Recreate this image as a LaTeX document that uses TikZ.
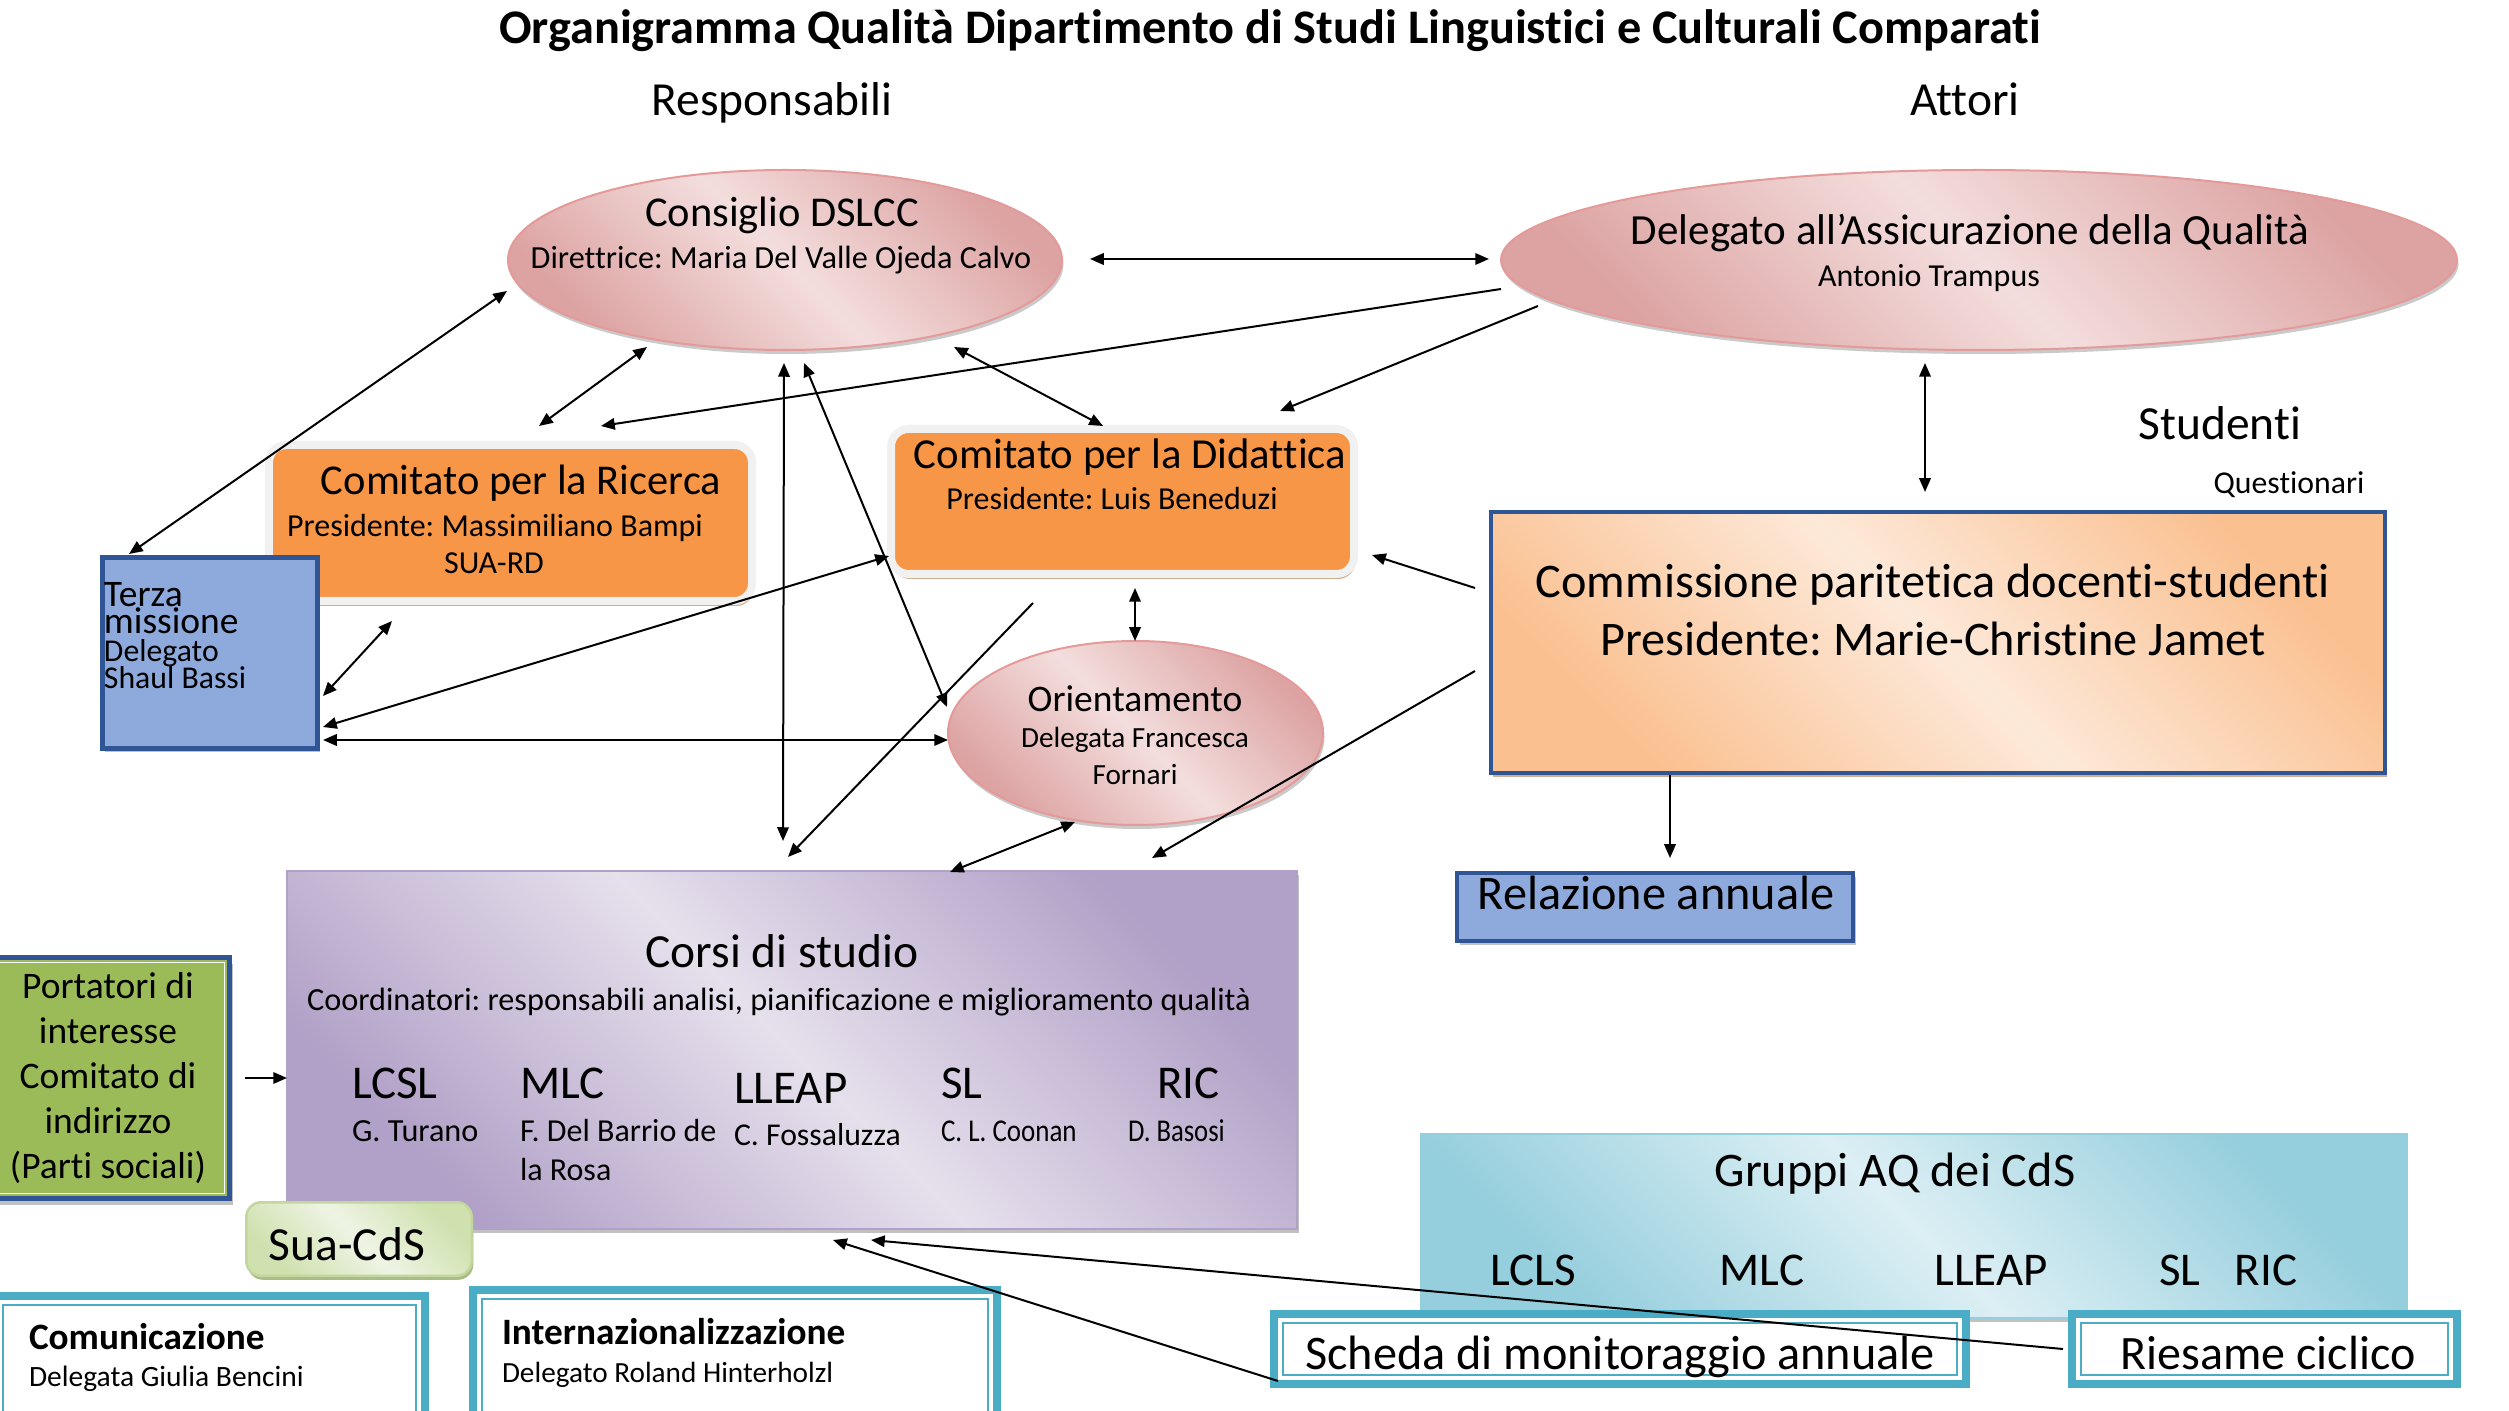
\documentclass[tikz,border=0pt]{standalone}
\usepackage{fontspec}
\setmainfont{Carlito}[Ligatures=NoCommon]
\usepackage{graphicx}
\usetikzlibrary{shapes.geometric,shadows,arrows.meta}
\definecolor{pinkL}{HTML}{F3DEDD}
\definecolor{pinkD}{HTML}{DCA3A2}
\definecolor{pinkB}{HTML}{E39A99}
\definecolor{orangeF}{HTML}{F79646}
\definecolor{frameG}{HTML}{F1F1F1}
\definecolor{tanS}{HTML}{CFAE8E}
\definecolor{blueF}{HTML}{8EA9DB}
\definecolor{blueB}{HTML}{2F5597}
\definecolor{peachL}{HTML}{FDE9D9}
\definecolor{peachD}{HTML}{FAC090}
\definecolor{lavL}{HTML}{E6E0EC}
\definecolor{lavD}{HTML}{B1A0C7}
\definecolor{greenF}{HTML}{9BBB59}
\definecolor{greenL}{HTML}{EEF4E4}
\definecolor{greenM}{HTML}{CFE1AE}
\definecolor{greenB}{HTML}{C3D69B}
\definecolor{greenS}{HTML}{A9BC87}
\definecolor{aqL}{HTML}{DCEFF4}
\definecolor{aqD}{HTML}{95CEDD}
\definecolor{tealC}{HTML}{4BACC6}
\begin{document}
\frenchspacing
\begin{tikzpicture}[x=0.4pt,y=-0.4pt,
  every node/.style={inner sep=0pt, outer sep=0pt},
  ell/.style={ellipse, draw=pinkB, line width=0.8pt, top color=pinkD, bottom color=pinkD, middle color=pinkL, shading angle=-45,
    drop shadow={shadow xshift=0.6pt, shadow yshift=-1.6pt, fill=gray!70, opacity=0.6}},
  orangebox/.style={rectangle, rounded corners=7pt, draw=frameG, line width=3.2pt, fill=orangeF,
    drop shadow={shadow xshift=0.6pt, shadow yshift=-2pt, fill=tanS, opacity=1}},
  bluebox/.style={rectangle, draw=blueB, line width=1.8pt, fill=blueF,
    drop shadow={shadow xshift=1pt, shadow yshift=-1.5pt, fill=gray!60, opacity=0.8}},
  peachbox/.style={rectangle, draw=blueB, line width=1.5pt, top color=peachD, bottom color=peachD, middle color=peachL, shading angle=-45,
    drop shadow={shadow xshift=0.8pt, shadow yshift=-1.5pt, fill=tanS, opacity=1}},
  lavbox/.style={rectangle, draw=lavD, line width=0.8pt, top color=lavD, bottom color=lavD, middle color=lavL, shading angle=-45,
    drop shadow={shadow xshift=0.6pt, shadow yshift=-1.5pt, fill=gray!70, opacity=0.7}},
  greenbox/.style={rectangle, draw=blueB, line width=2pt, fill=greenF,
    drop shadow={shadow xshift=1.5pt, shadow yshift=-2.5pt, fill=gray!60, opacity=0.8}},
  suabox/.style={rectangle, rounded corners=6pt, draw=greenB, line width=1pt, top color=greenM, bottom color=greenM, middle color=greenL, shading angle=-45,
    drop shadow={shadow xshift=0.6pt, shadow yshift=-1.6pt, fill=greenS, opacity=1}},
  aqbox/.style={rectangle, draw=aqD, line width=0.8pt, top color=aqD, bottom color=aqD, middle color=aqL, shading angle=-45,
    drop shadow={shadow xshift=0.4pt, shadow yshift=-1.6pt, fill=gray!70, opacity=0.7}},
  tealbox/.style={rectangle, draw=tealC, line width=3pt, fill=white},
  tealin/.style={draw=tealC, line width=0.7pt},
  t/.style={anchor=base, font=\fontsize{#1}{#1}\selectfont},
  tw/.style={anchor=base west, font=\fontsize{#1}{#1}\selectfont},
  arr/.style={-{Triangle[length=5.5pt,width=4.6pt]}, line width=0.8pt},
  dbl/.style={{Triangle[length=5.5pt,width=4.6pt]}-{Triangle[length=5.5pt,width=4.6pt]}, line width=0.8pt}
]
\useasboundingbox (0,0) rectangle (2509,1411);
\clip (0,0) rectangle (2509,1411);

% ---------- shapes ----------
\node[ell, minimum width=221.6pt, minimum height=72pt] (cons) at (785,260) {};
\node[ell, minimum width=382.4pt, minimum height=72pt] (deleg) at (1979,260) {};
\node[orangebox, minimum width=193.2pt, minimum height=62.4pt] (ric) at (510.5,523) {};
\node[orangebox, minimum width=185.2pt, minimum height=58pt] (did) at (1122.5,501.5) {};
\node[bluebox, minimum width=86pt, minimum height=76.4pt] (terza) at (210,653) {};
\node[ell, minimum width=150pt, minimum height=73.6pt] (orient) at (1135.5,733) {};
\node[peachbox, minimum width=357.6pt, minimum height=104.4pt] (comm) at (1938,642.5) {};
\node[bluebox, line width=1.5pt, minimum width=158.4pt, minimum height=27.2pt] (rel) at (1655,907) {};
\node[lavbox, minimum width=404pt, minimum height=143.2pt] (corsi) at (792,1050) {};
\node[greenbox, minimum width=97.2pt, minimum height=96.4pt, align=center, font=\fontsize{15}{18}\selectfont] (port) at (108,1078)
  {Portatori di\\interesse\\Comitato di\\indirizzo\\(Parti sociali)};
\draw[white, line width=0.7pt] ([shift={(5,5)}]port.north west) rectangle ([shift={(-5,-5)}]port.south east);
\node[suabox, minimum width=90.2pt, minimum height=29.4pt] (sua) at (359,1239) {};
\node[tealbox, minimum width=172.4pt, minimum height=56pt] (com) at (209.5,1366) {};
\draw[tealin] ([shift={(9,9)}]com.north west) rectangle ([shift={(-9,-9)}]com.south east);
\node[tealbox, minimum width=209.6pt, minimum height=58.4pt] (intl) at (735,1363) {};
\draw[tealin] ([shift={(9,9)}]intl.north west) rectangle ([shift={(-9,-9)}]intl.south east);
\node[aqbox, minimum width=394.4pt, minimum height=73.6pt] (grp) at (1914,1226) {};
\node[tealbox, minimum width=276.8pt, minimum height=28pt] (scheda) at (1620,1349) {};
\draw[tealin] ([shift={(9,9)}]scheda.north west) rectangle ([shift={(-9,-9)}]scheda.south east);
\node[tealbox, minimum width=154pt, minimum height=28pt] (ries) at (2264.5,1349) {};
\draw[tealin] ([shift={(9,9)}]ries.north west) rectangle ([shift={(-9,-9)}]ries.south east);

% ---------- texts ----------
\node[anchor=base, font=\fontsize{19.3}{19.3}\selectfont\bfseries] (title) at (1270,44) {Organigramma Qualità Dipartimento di Studi Linguistici e Culturali Comparati};
\node[t=19] (resp) at (772,116) {Responsabili};
\node[t=19] (att) at (1965,116) {Attori};
\node[t=17] (consA) at (782,227) {Consiglio DSLCC};
\node[t=12.9] (consB) at (781,269) {Direttrice: Maria Del Valle Ojeda Calvo};
\node[t=17.2] (delA) at (1970,245) {Delegato all’Assicurazione della Qualità};
\node[t=12.8] (delB) at (1929,287) {Antonio Trampus};
\node[t=17] (ricA) at (521,495) {Comitato per la Ricerca};
\node[t=12.8] (ricB) at (495,537) {Presidente: Massimiliano Bampi};
\node[t=12.8] (ricC) at (494,574) {SUA-RD};
\node[t=17.1] (didA) at (1130,469) {Comitato per la Didattica};
\node[t=12.8] (didB) at (1112,510) {Presidente: Luis Beneduzi};
\node[tw=15] (tzA) at (104,607) {Terza};
\node[tw=15] (tzB) at (104,634) {missione};
\node[tw=12.7] (tzC) at (104,662) {Delegato};
\node[tw=12.7] (tzD) at (104,689) {Shaul Bassi};
\node[t=15] (orA) at (1135,712) {Orientamento};
\node[t=11.7] (orB) at (1135,748) {Delegata Francesca};
\node[t=11.7] (orC) at (1135,785) {Fornari};
\node[t=19.3] (cmA) at (1933,598) {Commissione paritetica docenti-studenti};
\node[t=19.3] (cmB) at (1933,656) {Presidente: Marie-Christine Jamet};
\node[t=19] (stud) at (2220,440) {Studenti};
\node[t=12.7] (quest) at (2289,494) {Questionari};
\node[t=19.3] (relT) at (1656,910) {Relazione annuale};
\node[t=19] (corA) at (782,968) {Corsi di studio};
\node[t=12.9] (corB) at (779,1010) {Coordinatori: responsabili analisi, pianificazione e miglioramento qualità};
\node[tw=18.8] (c1) at (352,1098) {LCSL};
\node[tw=18.8] (c2) at (520,1098) {MLC};
\node[tw=18.8] (c3) at (734,1103) {LLEAP};
\node[tw=18.8] (c4) at (941,1098) {SL};
\node[tw=18.8] (c5) at (1157,1098) {RIC};
\node[tw=12.9] (n1) at (352,1141) {G. Turano};
\node[tw=12.8] (n2) at (520,1141) {F. Del Barrio de};
\node[tw=12.8] (n2b) at (520,1180) {la Rosa};
\node[tw=12.7] (n3) at (734,1145) {C. Fossaluzza};
\node[tw=12.7] (n4) at (941,1141) {\scalebox{0.85}[1]{C. L. Coonan}};
\node[tw=12.7] (n5) at (1128,1141) {\scalebox{0.84}[1]{D. Basosi}};
\node[t=19] (suaT) at (347,1260) {Sua-CdS};
\node[anchor=base west, font=\fontsize{14.9}{14.9}\selectfont\bfseries] (comA) at (29,1349) {Comunicazione};
\node[tw=11.8] (comB) at (29,1386) {Delegata Giulia Bencini};
\node[anchor=base west, font=\fontsize{14.9}{14.9}\selectfont\bfseries] (intA) at (502,1344) {Internazionalizzazione};
\node[tw=11.7] (intB) at (502,1382) {Delegato Roland Hinterholzl};
\node[t=19.3] (grpT) at (1895,1186) {Gruppi AQ dei CdS};
\node[t=18.8] (g1) at (1533,1285) {LCLS};
\node[t=18.8] (g2) at (1762,1285) {MLC};
\node[t=18.8] (g3) at (1991,1285) {LLEAP};
\node[t=18.8] (g4) at (2180,1285) {SL};
\node[t=18.8] (g5) at (2266,1285) {RIC};
\node[t=19.3] (schT) at (1620,1369) {Scheda di monitoraggio annuale};
\node[t=19.2] (riesT) at (2268,1369) {Riesame ciclico};

% ---------- connectors ----------
\coordinate (f1) at (1033,603);
\draw[dbl] ([shift={(305,-1)}]cons.center) -- ([shift={(-490,-1)}]deleg.center);
\draw[dbl] ([shift={(-278,31)}]cons.center) -- ([shift={(-81,-99)}]terza.center);
\draw[dbl] ([shift={(-138,87)}]cons.center) -- ([shift={(28.5,-97)}]ric.center);
\draw[arr] ([shift={(-478,29)}]deleg.center) -- ([shift={(90.5,-97)}]ric.center);
\draw[arr] ([shift={(-441,46)}]deleg.center) -- ([shift={(157.5,-90.5)}]did.center);
\draw[dbl] ([shift={(169,87)}]cons.center) -- ([shift={(-19.5,-75.5)}]did.center);
\draw[dbl] ([shift={(-1,103)}]cons.center) -- ([shift={(-9,-209)}]corsi.center);
\draw[dbl] ([shift={(19,103)}]cons.center) -- ([shift={(-188.5,-26)}]orient.center);
\draw[arr] (f1) -- ([shift={(-4,-193)}]corsi.center);
\draw[dbl] ([shift={(12.5,86.5)}]did.center) -- ([shift={(-0.5,-92)}]orient.center);
\draw[dbl] ([shift={(113,43)}]terza.center) -- ([shift={(-118.5,98)}]ric.center);
\draw[dbl] ([shift={(113,74)}]terza.center) -- ([shift={(-233.5,54.5)}]did.center);
\draw[dbl] ([shift={(113,87)}]terza.center) -- ([shift={(-187.5,7)}]orient.center);
\draw[dbl] ([shift={(-60.5,89)}]orient.center) -- ([shift={(158,-178)}]corsi.center);
\draw[arr] ([shift={(-463,28.5)}]comm.center) -- ([shift={(360,-192)}]corsi.center);
\draw[arr] ([shift={(-463,-54.5)}]comm.center) -- ([shift={(249.5,53.5)}]did.center);
\draw[dbl] ([shift={(-54,103)}]deleg.center) -- ([shift={(-13,-150.5)}]comm.center);
\draw[arr] ([shift={(-268,132.5)}]comm.center) -- ([shift={(15,-49)}]rel.center);
\draw[arr] ([shift={(137,0)}]port.center) -- ([shift={(-505,28)}]corsi.center);
\draw[arr] ([shift={(-342,32)}]scheda.center) -- ([shift={(41,190)}]corsi.center);
\draw[arr] ([shift={(-201.5,0)}]ries.center) -- ([shift={(79,190)}]corsi.center);
\end{tikzpicture}
\end{document}
